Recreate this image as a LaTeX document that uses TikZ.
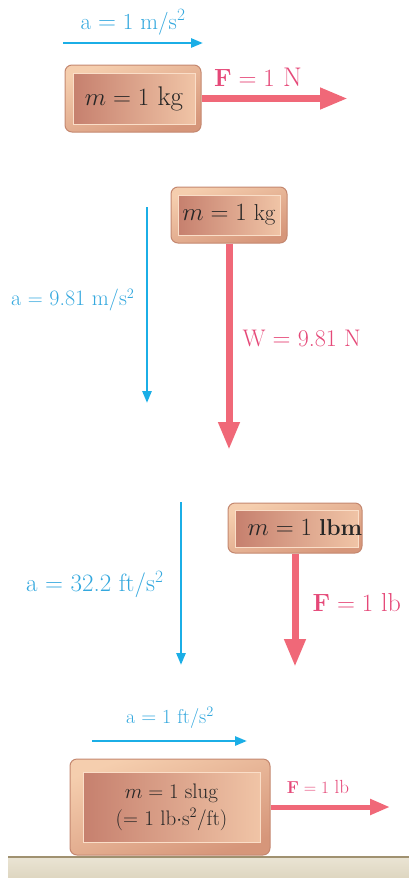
\documentclass[tikz,border=0pt]{standalone}
\usetikzlibrary{arrows.meta, positioning}
\definecolor{accblue}{RGB}{27,174,230}
\definecolor{lblblue}{RGB}{52,168,222}
\definecolor{forcered}{RGB}{240,104,120}
\definecolor{lblred}{RGB}{229,72,120}
\definecolor{boxtop}{RGB}{245,206,174}
\definecolor{boxbot}{RGB}{214,150,122}
\definecolor{boxedge}{RGB}{196,136,112}
\definecolor{boxdark}{RGB}{198,128,110}
\definecolor{boxlight}{RGB}{240,196,166}
\definecolor{inneredge}{RGB}{250,222,200}
\definecolor{groundtop}{RGB}{234,228,212}
\definecolor{groundbot}{RGB}{222,214,192}
\definecolor{groundline}{RGB}{160,145,112}
\tikzset{
  outerbox/.style={draw=boxedge, top color=boxtop, bottom color=boxbot, shading angle=20,
    rounded corners=7pt, line width=1pt},
  innerbox/.style={draw=inneredge, left color=boxdark, right color=boxlight, line width=1pt},
  masstext/.style={text=black!85, inner sep=0pt},
  accel/.style={accblue, line width=2.6pt, -{Triangle[length=12pt,width=9pt]}},
  force/.style={forcered, line width=7pt, -{Triangle[length=28pt,width=20pt]}},
  alabel/.style={text=lblblue, font=\fontsize{23}{25}\selectfont},
  flabel/.style={text=lblred, font=\fontsize{24}{26}\selectfont},
}

\begin{document}
\begin{tikzpicture}[x=1pt, y=-1pt]
  \useasboundingbox (0,0) rectangle (409,878);

  % ground
  \shade[top color=groundtop, bottom color=groundbot] (8,857) rectangle (409,878);
  \draw[groundline, line width=1.5pt] (8,857) -- (409,857);

  % 1 kg pushed by 1 N
  \node[outerbox, minimum width=136, minimum height=67] (kgbox) at (133,98.5) {};
  \node[innerbox, minimum width=122, minimum height=51] (kgin) at (134,98.5) {};
  \node[masstext, font=\fontsize{27}{29}\selectfont] (kgtext) at (kgin) {$m = 1$ kg};
  \coordinate (a1start) at (63,43);  \coordinate (a1end) at (203,43);
  \draw[accel] (a1start) -- (a1end);
  \node[alabel] (a1lbl) at (133,22) {a $=$ 1 m/s$^2$};
  \coordinate (f1end) at (348,98.5);
  \draw[force] (kgbox.east) -- (f1end);
  \node[flabel, font=\fontsize{27}{29}\selectfont] (f1lbl) at (258,77) {$\mathbf{F} = 1$ N};

  % 1 kg falling
  \node[outerbox, minimum width=116, minimum height=56] (wbox) at (229,215) {};
  \node[innerbox, minimum width=102, minimum height=40] (win) at (229,215) {};
  \node[masstext, font=\fontsize{23}{25}\selectfont] (wtext) at (win) {$m = 1$ kg};
  \coordinate (a2start) at (147,207);  \coordinate (a2end) at (147,403);
  \draw[accel] (a2start) -- (a2end);
  \node[alabel, anchor=east, font=\fontsize{22}{24}\selectfont] (a2lbl) at (138,300) {a $=$ 9.81 m/s$^2$};
  \coordinate (wend) at (229,450);
  \draw[force] (wbox.south) -- (wend);
  \node[flabel, anchor=west] (wlbl) at (239,338) {W $=$ 9.81 N};

  % 1 lbm falling
  \node[outerbox, minimum width=134, minimum height=50] (lbmbox) at (295,528) {};
  \node[innerbox, minimum width=123, minimum height=37] (lbmin) at (296.5,528.5) {};
  \node[masstext, font=\fontsize{23}{25}\selectfont] (lbmtext) at (305,528) {$m = 1$ \textbf{lbm}};
  \coordinate (a3start) at (181,502);  \coordinate (a3end) at (181,665);
  \draw[accel] (a3start) -- (a3end);
  \node[alabel, anchor=east, font=\fontsize{25}{27}\selectfont] (a3lbl) at (167,585) {a $=$ 32.2 ft/s$^2$};
  \coordinate (f3end) at (295,667);
  \draw[force] (lbmbox.south) -- (f3end);
  \node[flabel, anchor=west, font=\fontsize{26}{28}\selectfont] (f3lbl) at (309,603) {$\mathbf{F} = 1$ lb};

  % 1 slug on the ground
  \node[outerbox, minimum width=200, minimum height=96] (slugbox) at (170,807) {};
  \node[innerbox, minimum width=177, minimum height=70] (slugin) at (171.5,807) {};
  \node[masstext, font=\fontsize{21}{23}\selectfont, align=center] (slugtext) at (slugin)
    {$m = 1$ slug\\[4pt] ($=$ 1 lb$\cdot$s$^2$/ft)};
  \coordinate (a4start) at (92,741);  \coordinate (a4end) at (247,741);
  \draw[accel] (a4start) -- (a4end);
  \node[alabel, font=\fontsize{20}{22}\selectfont] (a4lbl) at (170,718) {a $=$ 1 ft/s$^2$};
  \coordinate (f4end) at (390,807);
  \draw[force, line width=5pt, -{Triangle[length=20pt,width=15pt]}] (slugbox.east) -- (f4end);
  \node[flabel, font=\fontsize{19}{21}\selectfont] (f4lbl) at (318,787) {$\mathbf{F} = 1$ lb};
\end{tikzpicture}
\end{document}
